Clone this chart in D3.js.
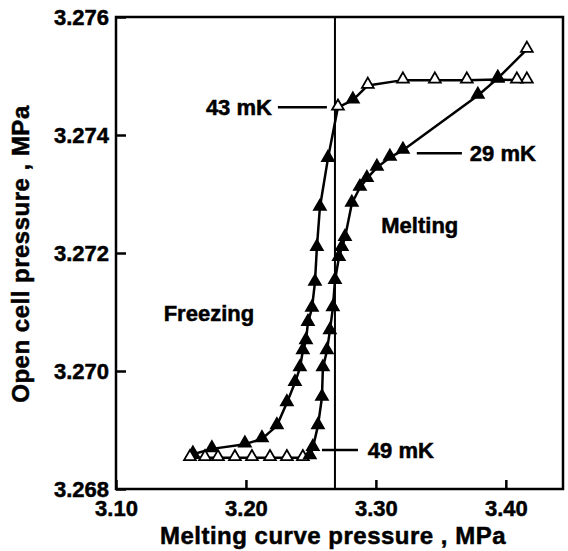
<!DOCTYPE html>
<html>
<head>
<meta charset="utf-8">
<script src="https://cdn.jsdelivr.net/npm/d3@7"></script>
<style>
  body { margin: 0; background: #fff; }
  text { font-family: "Liberation Sans", Arial, sans-serif; font-weight: bold; fill: #000;
         stroke: #000; stroke-width: 0.5px; }
</style>
</head>
<body>
<svg width="568" height="551"></svg>
<script>
// x ticks / y ticks
const xTicks = [3.10, 3.20, 3.30, 3.40]
const yTicks = [3.268, 3.270, 3.272, 3.274, 3.276]

// freezing run: plateau (open) -> kink -> steep drop (filled)
const freezeX = [3.4162, 3.4085, 3.3938, 3.3700, 3.3454, 3.3208, 3.2938, 3.2823, 3.2708,
  3.2631, 3.2569, 3.2546, 3.2531, 3.2508, 3.2477, 3.2462, 3.2438, 3.2415, 3.2377,
  3.2315, 3.2238, 3.2123, 3.1992, 3.1738, 3.1592]
const freezeY = [3.27493, 3.27493, 3.27494, 3.27493, 3.27493, 3.27493, 3.27484, 3.27459, 3.27447,
  3.27360, 3.27277, 3.27209, 3.27150, 3.27106, 3.27082, 3.27051, 3.27034, 3.27005, 3.26980,
  3.26946, 3.26907, 3.26885, 3.26876, 3.26868, 3.26859]
const freezeOpen = [1,1,1,1,1,1,1,0,1, 0,0,0,0,0,0,0,0,0,0, 0,0,0,0,0,0]

// melting run: flat bottom (open) -> steep rise -> 29 mK branch
const meltX = [3.1569, 3.1685, 3.1785, 3.1915, 3.2046, 3.2185, 3.2315, 3.2438,
  3.2492, 3.2515, 3.2554, 3.2585, 3.2592, 3.2623, 3.2646, 3.2669, 3.2685, 3.2715,
  3.2738, 3.2762, 3.2815, 3.2877, 3.2931, 3.3008, 3.3108, 3.3208, 3.3785, 3.3938, 3.4162]
const meltY = [3.26853, 3.26853, 3.26853, 3.26853, 3.26853, 3.26853, 3.26853, 3.26853,
  3.26856, 3.26870, 3.26907, 3.26955, 3.27005, 3.27034, 3.27068, 3.27107, 3.27153, 3.27192,
  3.27209, 3.27226, 3.27284, 3.27311, 3.27326, 3.27345, 3.27362, 3.27374, 3.27467, 3.27496, 3.27545]
const meltOpen = [1,1,1,1,1,1,1,1, 0,0,0,0,0,0,0,0,0,0, 0,0,0,0,0,0,0,0,0,0,1]

const markerLine = 3.2685

const svg = d3.select('svg')

const xScale = d3.scaleLinear().domain([3.10, 3.444]).range([116, 563])
const yScale = d3.scaleLinear().domain([3.268, 3.276]).range([489, 17])

// frame
svg.append('rect')
   .attr('x', 116).attr('y', 17)
   .attr('width', 563 - 116).attr('height', 489 - 17)
   .attr('fill', 'none').attr('stroke', '#000').attr('stroke-width', 2.5)

const xAxis = svg.append('g')
   .attr('transform', 'translate(0,489)')
   .call(d3.axisBottom(xScale).tickValues(xTicks).tickFormat(d3.format('.2f'))
         .tickSize(-9).tickPadding(11))
xAxis.select('.domain').remove()
xAxis.selectAll('line').attr('stroke-width', 2.5)
xAxis.selectAll('text').attr('font-size', 22).attr('font-family', null)

const yAxis = svg.append('g')
   .attr('transform', 'translate(116,0)')
   .call(d3.axisLeft(yScale).tickValues(yTicks).tickFormat(d3.format('.3f'))
         .tickSize(-10).tickPadding(7))
yAxis.select('.domain').remove()
yAxis.selectAll('line').attr('stroke-width', 2.5)
yAxis.selectAll('text').attr('font-size', 22).attr('font-family', null)

// vertical reference line
svg.append('line')
   .attr('x1', xScale(markerLine)).attr('x2', xScale(markerLine))
   .attr('y1', 17).attr('y2', 489)
   .attr('stroke', '#000').attr('stroke-width', 2)

const line = d3.line().x(d => xScale(d.x)).y(d => yScale(d.y))
const tri = d3.symbol().type(d3.symbolTriangle).size(60)

const drawRun = (xs, ys, open) => {
  const pts = xs.map((x, i) => ({x: x, y: ys[i], open: open[i]}))
  svg.append('path').datum(pts)
     .attr('d', line).attr('fill', 'none')
     .attr('stroke', '#000').attr('stroke-width', 2.5).attr('stroke-linejoin', 'round')
  svg.append('g').selectAll('path')
     .data(pts).enter().append('path')
     .attr('d', tri)
     .attr('transform', d => `translate(${xScale(d.x)},${yScale(d.y) - 1})`)
     .attr('fill', d => d.open ? '#fff' : '#000')
     .attr('stroke', '#000').attr('stroke-width', 1.8)
}
drawRun(freezeX, freezeY, freezeOpen)
drawRun(meltX, meltY, meltOpen)

// temperature labels
const labels = [
  {t: '43 mK', x: 3.2200, y: 3.27447, anchor: 'end', lx1: 3.2246, lx2: 3.2623},
  {t: '29 mK', x: 3.3723, y: 3.27369, anchor: 'start', lx1: 3.3315, lx2: 3.3662},
  {t: '49 mK', x: 3.2938, y: 3.26866, anchor: 'start', lx1: 3.2585, lx2: 3.2862}
]
labels.forEach(l => {
  svg.append('line')
     .attr('x1', xScale(l.lx1)).attr('x2', xScale(l.lx2))
     .attr('y1', yScale(l.y)).attr('y2', yScale(l.y))
     .attr('stroke', '#000').attr('stroke-width', 2.5)
  svg.append('text')
     .attr('x', xScale(l.x)).attr('y', yScale(l.y)).attr('dy', '0.36em')
     .attr('text-anchor', l.anchor).attr('font-size', 22)
     .text(l.t)
})

svg.append('text').attr('x', xScale(3.3338)).attr('y', yScale(3.27247)).attr('dy', '0.36em')
   .attr('text-anchor', 'middle').attr('font-size', 22).text('Melting')
svg.append('text').attr('x', xScale(3.1715)).attr('y', yScale(3.27098)).attr('dy', '0.36em')
   .attr('text-anchor', 'middle').attr('font-size', 22).text('Freezing')

// axis titles
svg.append('text').attr('x', 333).attr('y', 544)
   .attr('text-anchor', 'middle').attr('font-size', 24).attr('letter-spacing', 0.5)
   .text('Melting curve pressure , MPa')
svg.append('text')
   .attr('transform', 'translate(29,254) rotate(-90)')
   .attr('text-anchor', 'middle').attr('font-size', 24).attr('letter-spacing', 0.5)
   .text('Open cell pressure , MPa')
</script>
</body>
</html>
